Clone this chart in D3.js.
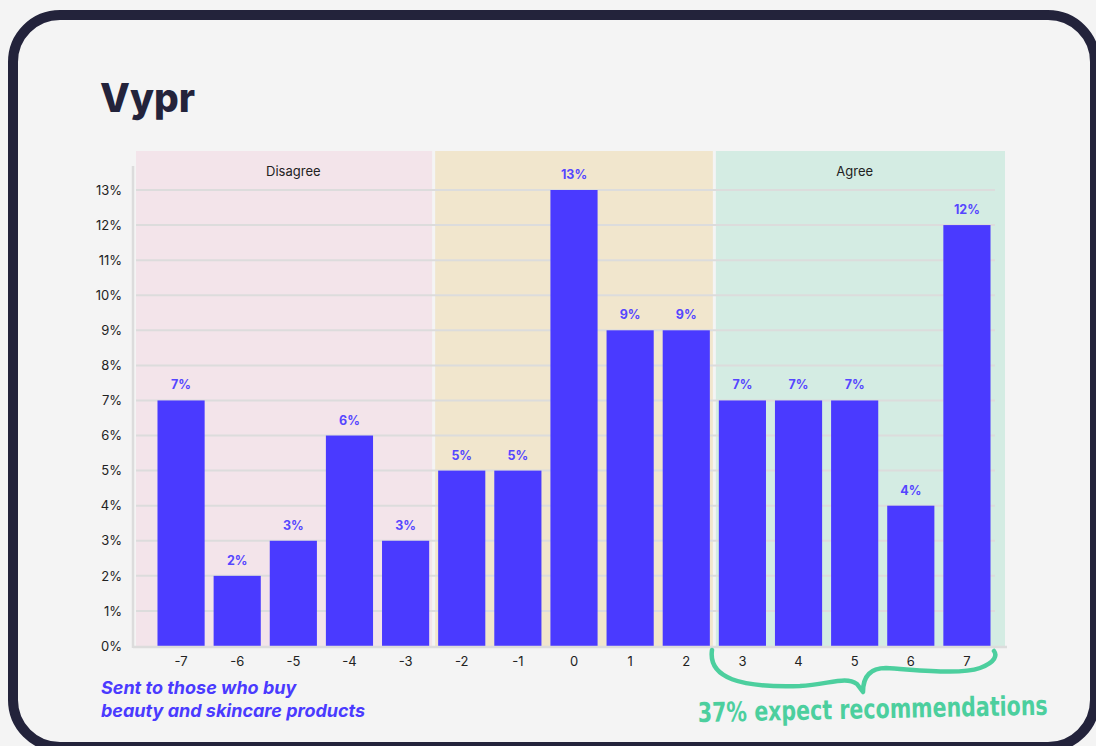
<!DOCTYPE html>
<html>
<head>
<meta charset="utf-8">
<script src="https://cdn.jsdelivr.net/npm/d3@7"></script>
<style>
  html, body { margin: 0; padding: 0; background: #f4f4f4; }
  svg { display: block; }
</style>
</head>
<body>
<svg id="chart" width="1096" height="746"></svg>
<script>
// ---- data ----
const categories = ["-7","-6","-5","-4","-3","-2","-1","0","1","2","3","4","5","6","7"];
const values = [7, 2, 3, 6, 3, 5, 5, 13, 9, 9, 7, 7, 7, 4, 12];
const yTicks = [0,1,2,3,4,5,6,7,8,9,10,11,12,13];
const groupLabels = ["Disagree", "", "Agree"];
const groupStarts = ["-7", "-2", "3"];
const groupEnds = ["-3", "2", "7"];
const groupColors = ["#f3e4ea", "#f1e6cd", "#d4ece3"];
const noteLines = ["Sent to those who buy", "beauty and skincare products"];
const calloutText = "37% expect recommendations";

const svg = d3.select("#chart");
const W = 1096, H = 746;
const font = "Inter, 'DejaVu Sans', sans-serif";

svg.append("rect").attr("width", W).attr("height", H).attr("fill", "#f4f4f4");
svg.append("rect")
  .attr("x", 13).attr("y", 15).attr("width", 1082).attr("height", 732)
  .attr("rx", 47).attr("ry", 47)
  .attr("fill", "#f4f4f4").attr("stroke", "#23233b").attr("stroke-width", 10);

// logo
svg.append("text").attr("x", 100).attr("y", 112)
  .attr("font-family", font).attr("font-weight", 800).attr("font-size", 40)
  .attr("fill", "#23233b").attr("textLength", 95).attr("lengthAdjust", "spacingAndGlyphs")
  .text("Vypr");

// scales
const axisX = 133;
const x = d3.scaleBand().domain(categories).range([153, 995]).paddingInner(0.16).paddingOuter(0.08);
const y = d3.scaleLinear().domain([0, 13]).range([646, 190]);
const step = x.step();
const bw = x.bandwidth();

// group backgrounds
const bandTop = 151;
groupLabels.forEach((lab, i) => {
  const s = groupStarts[i], e = groupEnds[i];
  let left = i === 0 ? axisX + 3 : x(s) - (step - bw) / 2 + 1.5;
  let right = i === groupLabels.length - 1 ? 1005 : x(e) + bw + (step - bw) / 2 - 1.5;
  svg.append("rect").attr("x", left).attr("y", bandTop)
    .attr("width", right - left).attr("height", y(0) - bandTop)
    .attr("fill", groupColors[i]);
  if (lab) {
    svg.append("text")
      .attr("x", (x(s) + x(e) + bw) / 2).attr("y", 171)
      .attr("text-anchor", "middle").attr("dominant-baseline", "central")
      .attr("font-family", font).attr("font-size", 13).attr("fill", "#222")
      .text(lab);
  }
});

// gridlines
svg.append("g").selectAll("line").data(yTicks.filter(d => d > 0)).join("line")
  .attr("x1", 136).attr("x2", 995)
  .attr("y1", d => y(d)).attr("y2", d => y(d))
  .attr("stroke", "#dcdcdc").attr("stroke-width", 2);

// y axis
const yAxis = d3.axisLeft(y).tickValues(yTicks).tickSize(0).tickPadding(11).tickFormat(d => d + "%");
const gy = svg.append("g").attr("transform", `translate(${axisX},0)`).call(yAxis);
gy.select(".domain").remove();
gy.selectAll("text").attr("font-family", font).attr("font-size", 13).attr("fill", "#222");
svg.append("line").attr("x1", axisX).attr("x2", axisX).attr("y1", 166).attr("y2", 648)
  .attr("stroke", "#dcdcdc").attr("stroke-width", 2.5);

// bars
svg.append("g").selectAll("rect").data(values).join("rect")
  .attr("x", (d, i) => x(categories[i]))
  .attr("y", d => y(d))
  .attr("width", bw)
  .attr("height", d => y(0) - y(d))
  .attr("fill", "#4a3aff");

// value labels
svg.append("g").selectAll("text").data(values).join("text")
  .attr("x", (d, i) => x(categories[i]) + bw / 2)
  .attr("y", d => y(d) - 11)
  .attr("text-anchor", "middle")
  .attr("font-family", font).attr("font-weight", 700).attr("font-size", 12.5)
  .attr("fill", "#5546ff")
  .text(d => d + "%");

// x axis
svg.append("line").attr("x1", axisX).attr("x2", 1007).attr("y1", 647).attr("y2", 647)
  .attr("stroke", "#dcdcdc").attr("stroke-width", 2.5);
const xAxis = d3.axisBottom(x).tickSize(0).tickPadding(9);
const gx = svg.append("g").attr("transform", "translate(0,648)").call(xAxis);
gx.select(".domain").remove();
gx.selectAll("text").attr("font-family", font).attr("font-size", 13).attr("fill", "#222");

// note
svg.append("g").selectAll("text").data(noteLines).join("text")
  .attr("x", 101).attr("y", (d, i) => 694 + i * 23)
  .attr("font-family", font).attr("font-weight", 700).attr("font-style", "italic")
  .attr("font-size", 18).attr("fill", "#4a3aff")
  .text(d => d);

// brace
svg.append("path")
  .attr("d", "M712,650 C708,678 740,688 800,686 C830,684 846,676 857,684 L863,692 C863,679 868,668 886,668 C920,670 960,675 980,668 C996,662 997,655 994,651")
  .attr("fill", "none").attr("stroke", "#4ccf9e").attr("stroke-width", 4.5)
  .attr("stroke-linecap", "round").attr("stroke-linejoin", "round");

const callout = svg.append("text")
  .attr("x", 0).attr("y", 0)
  .attr("font-family", "'DejaVu Sans Condensed', 'DejaVu Sans', sans-serif")
  .attr("font-weight", 700).attr("font-size", 27).attr("fill", "#4ccf9e")
  .text(calloutText);
const natW = callout.node().getComputedTextLength();
const sx = 350 / natW;
callout.attr("transform", `translate(698,722) rotate(-1.2) scale(${sx},1)`);
</script>
</body>
</html>
